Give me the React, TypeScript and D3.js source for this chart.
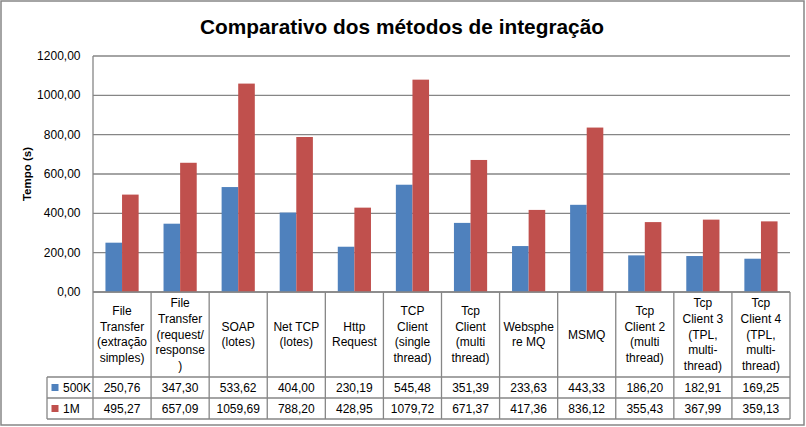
import React from 'react';
import * as d3 from 'd3';

const categories: string[][] = [
  ['File', 'Transfer', '(extração', 'simples)'],
  ['File', 'Transfer', '(request/', 'response', ')'],
  ['SOAP', '(lotes)'],
  ['Net TCP', '(lotes)'],
  ['Http', 'Request'],
  ['TCP', 'Client', '(single', 'thread)'],
  ['Tcp', 'Client', '(multi', 'thread)'],
  ['Websphe', 're MQ'],
  ['MSMQ'],
  ['Tcp', 'Client 2', '(multi', 'thread)'],
  ['Tcp', 'Client 3', '(TPL,', 'multi-', 'thread)'],
  ['Tcp', 'Client 4', '(TPL,', 'multi-', 'thread)'],
];

const series500K = [250.76, 347.3, 533.62, 404.0, 230.19, 545.48, 351.39, 233.63, 443.33, 186.2, 182.91, 169.25];
const series1M = [495.27, 657.09, 1059.69, 788.2, 428.95, 1079.72, 671.37, 417.36, 836.12, 355.43, 367.99, 359.13];

const seriesNames = ['500K', '1M'];
const seriesColors = ['#4F81BD', '#C0504D'];
const yTicks = [0, 200, 400, 600, 800, 1000, 1200];

const W = 806;
const H = 427;
const font = '"Liberation Sans", Arial, sans-serif';
const gridColor = '#868686';

const fmt = (v: number) => v.toFixed(2).replace('.', ',');

function App() {
  const left = 93;
  const right = 790;
  const top = 56;
  const bottom = 292;
  const headerBottom = 377;
  const row1Bottom = 398;
  const row2Bottom = 419;
  const legendLeft = 47;

  const keys = categories.map((c, i) => String(i));
  const x = d3.scaleBand<string>().domain(keys).range([left, right]).paddingInner(0).paddingOuter(0);
  const inner = d3
    .scaleBand<string>()
    .domain(seriesNames)
    .range([0, x.bandwidth()])
    .paddingInner(0)
    .paddingOuter(0.75);
  const y = d3.scaleLinear().domain([0, 1200]).range([bottom, top]);

  const data = [series500K, series1M];
  const lineH = 15.7;
  const headerMid = (bottom + headerBottom) / 2;

  return (
    <div style={{ position: 'absolute', left: 0, top: 0 }}>
      <svg width={W} height={H} style={{ display: 'block', background: '#fff' }}>
        <rect x={1} y={1} width={803} height={424} fill="#fff" stroke={gridColor} strokeWidth={1.5} />

        <text
          x={402}
          y={33.5}
          textAnchor="middle"
          fontFamily={font}
          fontWeight="bold"
          fontSize={21}
          textLength={404}
          lengthAdjust="spacingAndGlyphs"
          fill="#000"
        >
          Comparativo dos métodos de integração
        </text>

        <text
          transform={`translate(31,174) rotate(-90)`}
          textAnchor="middle"
          fontFamily={font}
          fontWeight="bold"
          fontSize={11.5}
          fill="#000"
        >
          Tempo (s)
        </text>

        {yTicks.map(t => (
          <g key={t}>
            <line x1={left} x2={right} y1={y(t)} y2={y(t)} stroke={gridColor} strokeWidth={1.3} />
            <text x={80.5} y={y(t) + 4} textAnchor="end" fontFamily={font} fontSize={12} fill="#000">
              {fmt(t)}
            </text>
          </g>
        ))}

        {data.map((vals, s) => (
          <g key={s} fill={seriesColors[s]}>
            {vals.map((v, i) => (
              <rect
                key={i}
                x={(x(String(i)) as number) + (inner(seriesNames[s]) as number)}
                width={inner.bandwidth()}
                y={y(v)}
                height={y(0) - y(v)}
              />
            ))}
          </g>
        ))}

        {/* data table */}
        <g stroke={gridColor} strokeWidth={1.3} fill="none">
          <line x1={left} x2={left} y1={top} y2={row2Bottom} />
          {keys.map(k => (
            <line key={k} x1={(x(k) as number) + x.bandwidth()} x2={(x(k) as number) + x.bandwidth()} y1={bottom} y2={row2Bottom} />
          ))}
          <line x1={left} x2={right} y1={bottom} y2={bottom} />
          <line x1={legendLeft} x2={right} y1={headerBottom} y2={headerBottom} />
          <line x1={legendLeft} x2={right} y1={row1Bottom} y2={row1Bottom} />
          <line x1={legendLeft} x2={right} y1={row2Bottom} y2={row2Bottom} />
          <line x1={legendLeft} x2={legendLeft} y1={headerBottom} y2={row2Bottom} />
        </g>

        {categories.map((lines, i) => {
          const cx = (x(String(i)) as number) + x.bandwidth() / 2;
          const startY = headerMid - ((lines.length - 1) * lineH) / 2;
          return (
            <text key={i} textAnchor="middle" fontFamily={font} fontSize={12} fill="#000">
              {lines.map((ln, j) => (
                <tspan key={j} x={cx} y={startY + j * lineH + 4}>
                  {ln}
                </tspan>
              ))}
            </text>
          );
        })}

        {data.map((vals, s) => {
          const rowTop = s === 0 ? headerBottom : row1Bottom;
          const rowBot = s === 0 ? row1Bottom : row2Bottom;
          const cy = (rowTop + rowBot) / 2;
          return (
            <g key={s}>
              <rect x={51.5} y={cy - 3.5} width={7} height={7} fill={seriesColors[s]} />
              <text x={63} y={cy + 4.5} fontFamily={font} fontSize={12} fill="#000">
                {seriesNames[s]}
              </text>
              {vals.map((v, i) => (
                <text
                  key={i}
                  x={(x(String(i)) as number) + x.bandwidth() / 2}
                  y={cy + 4.5}
                  textAnchor="middle"
                  fontFamily={font}
                  fontSize={12}
                  fill="#000"
                >
                  {fmt(v)}
                </text>
              ))}
            </g>
          );
        })}
      </svg>
    </div>
  );
}

export default App;
